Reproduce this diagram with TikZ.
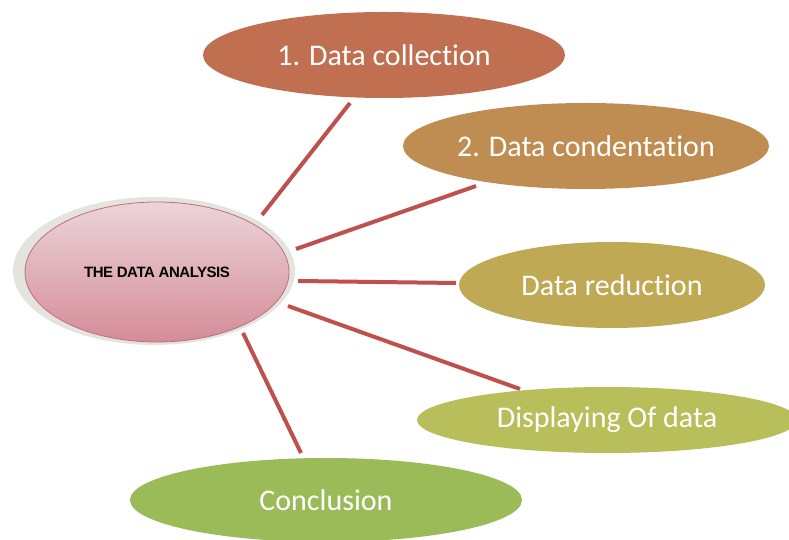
\documentclass[tikz,border=0pt]{standalone}
\usepackage{fontspec}
\setmainfont[Ligatures={NoCommon}]{Carlito}
\newfontfamily\arialfont{Liberation Sans}
\usetikzlibrary{shapes.geometric}
\definecolor{linkred}{RGB}{192,80,77}
\definecolor{cA}{RGB}{192,112,80}
\definecolor{cB}{RGB}{191,141,82}
\definecolor{cC}{RGB}{191,169,84}
\definecolor{cD}{RGB}{183,190,90}
\definecolor{cE}{RGB}{155,187,89}
\definecolor{pinktop}{RGB}{236,212,217}
\definecolor{pinkbot}{RGB}{212,140,152}
\definecolor{pinkedge}{RGB}{190,110,120}
\definecolor{shadowgrey}{RGB}{228,228,222}
\tikzset{
  topic/.style={ellipse, inner sep=0pt, text=white, font=\fontsize{30}{35}\selectfont},
  link/.style={linkred, line width=4pt},
}
\begin{document}
\begin{tikzpicture}[x=1pt,y=1pt]
\useasboundingbox (0,0) rectangle (789,540);
% central
\node[ellipse, fill=shadowgrey, minimum width=282, minimum height=148, inner sep=0pt] (shadow) at (154,269) {};
\node[ellipse, top color=pinktop, bottom color=pinkbot, draw=pinkedge, line width=0.8pt, minimum width=264, minimum height=140, inner sep=0pt, font=\arialfont\bfseries\fontsize{15}{18}\selectfont] (c) at (157,268) {\addfontfeature{LetterSpace=-3}THE DATA ANALYSIS};
% connector end points
\coordinate (a1) at (262,325); \coordinate (b1) at (350,437);
\coordinate (a2) at (296,291); \coordinate (b2) at (476,354);
\coordinate (a3) at (298,259); \coordinate (b3) at (456,257);
\coordinate (a4) at (288,234); \coordinate (b4) at (520,151);
\coordinate (a5) at (243,207); \coordinate (b5) at (301,87);
\draw[link] (a1) -- (b1);
\draw[link] (a2) -- (b2);
\draw[link] (a3) -- (b3);
\draw[link] (a4) -- (b4);
\draw[link] (a5) -- (b5);
% topics
\node[topic, fill=cA, minimum width=362, minimum height=86] (t1) at (384,485) {1. Data collection};
\node[topic, fill=cB, minimum width=366, minimum height=86] (t2) at (586,394) {2. Data condentation};
\node[topic, fill=cC, minimum width=306, minimum height=86] (t3) at (612,255) {Data reduction};
\node[topic, fill=cD, minimum width=380, minimum height=66] (t4) at (607,120) {Displaying Of data};
\node[topic, fill=cE, minimum width=392, minimum height=84] (t5) at (326,40) {Conclusion};
\end{tikzpicture}
\end{document}
